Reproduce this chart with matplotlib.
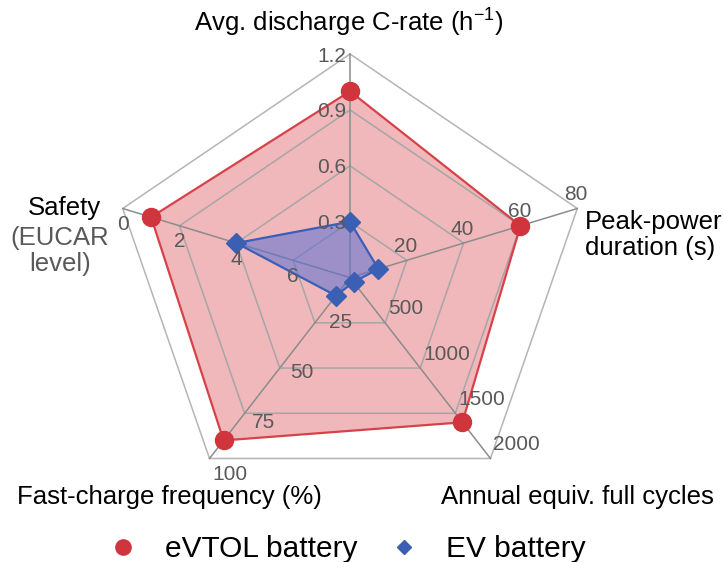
import numpy as np
import matplotlib
matplotlib.use("Agg")
import matplotlib.pyplot as plt
from matplotlib.lines import Line2D

plt.rcParams['font.family'] = ['Liberation Sans', 'DejaVu Sans']

# ---- data -------------------------------------------------------------
axis_names = ["C-rate", "Peak power", "Cycles", "Fast charge", "Safety"]
axis_min = [0.0, 0.0, 0.0, 0.0, 8.0]      # value at the centre
axis_max = [1.2, 80.0, 2000.0, 100.0, 0.0]  # value at the outer ring
axis_ticks = [
    [0.3, 0.6, 0.9, 1.2],
    [20, 40, 60, 80],
    [500, 1000, 1500, 2000],
    [25, 50, 75, 100],
    [6, 4, 2, 0],
]
tick_labels = [
    ["0.3", "0.6", "0.9", "1.2"],
    ["20", "40", "60", "80"],
    ["500", "1000", "1500", "2000"],
    ["25", "50", "75", "100"],
    ["6", "4", "2", "0"],
]
evtol_values = [1.0, 60, 1600, 90, 1]
ev_values = [0.3, 10, 50, 10, 4]
series_names = ["eVTOL battery", "EV battery"]

# ---- layout (pixel space) ---------------------------------------------
W, H = 723, 562
CX, CY = 350.0, 277.6
RX, RY = 239.0, 223.6
angles = np.deg2rad([90, 18, -54, -126, 162])


def to_xy(i, v):
    frac = (v - axis_min[i]) / (axis_max[i] - axis_min[i])
    return CX + frac * RX * np.cos(angles[i]), CY - frac * RY * np.sin(angles[i])


def ring_xy(frac):
    xs = CX + frac * RX * np.cos(angles)
    ys = CY - frac * RY * np.sin(angles)
    return np.append(xs, xs[0]), np.append(ys, ys[0])


fig = plt.figure(figsize=(W / 100, H / 100), dpi=100)
ax = fig.add_axes([0, 0, 1, 1])
ax.set_xlim(0, W)
ax.set_ylim(H, 0)
ax.axis("off")

grid_c = "#a6a6a6"

# eVTOL polygon fill first so the grid shows through it
ex, ey = zip(*[to_xy(i, v) for i, v in enumerate(evtol_values)])
ex, ey = list(ex) + [ex[0]], list(ey) + [ey[0]]
ax.fill(ex, ey, color="#d63c44", alpha=0.36, lw=0, zorder=1)

# pentagon grid rings and spokes
for frac in [0.25, 0.5, 0.75, 1.0]:
    gx, gy = ring_xy(frac)
    ax.plot(gx, gy, color=grid_c if frac < 1 else "#b5b5b5", lw=1.1, zorder=2)
for i in range(5):
    ox, oy = to_xy(i, axis_max[i])
    ax.plot([CX, ox], [CY, oy], color="#8c8c8c", lw=1.1, zorder=2)

# series outlines and markers
ax.plot(ex, ey, color="#d6424a", lw=1.6, zorder=3)
ax.plot(ex[:-1], ey[:-1], "o", color="#d0353d", ms=13, mec="#d0353d", zorder=6)

vx, vy = zip(*[to_xy(i, v) for i, v in enumerate(ev_values)])
vx, vy = list(vx) + [vx[0]], list(vy) + [vy[0]]
ax.fill(vx, vy, color="#5a6ed4", alpha=0.55, lw=0, zorder=4)
ax.plot(vx, vy, color="#3a5fb8", lw=1.6, zorder=5)
ax.plot(vx[:-1], vy[:-1], "D", color="#3a5fb3", ms=10.5, zorder=6)

# tick labels on each spoke
tick_c = "#595959"
tick_fs = 15
offsets = [
    dict(dx=-4, dy=2, ha="right", va="center"),
    dict(dx=-1, dy=-14, ha="center", va="center"),
    dict(dx=3, dy=-14, ha="left", va="center"),
    None,
    dict(dx=0, dy=16, ha="center", va="center"),
]
fc_offsets = [(14, 0), (10, 4), (7, 9), (20, 16)]
for i in range(5):
    for k, (t, lab) in enumerate(zip(axis_ticks[i], tick_labels[i])):
        px, py = to_xy(i, t)
        if i == 3:
            dx, dy = fc_offsets[k]
            ha = "left" if k < 3 else "center"
            ax.text(px + dx, py + dy, lab, ha=ha, va="center",
                    fontsize=tick_fs, color=tick_c, zorder=7)
        else:
            o = offsets[i]
            ax.text(px + o["dx"], py + o["dy"], lab, ha=o["ha"], va=o["va"],
                    fontsize=tick_fs, color=tick_c, zorder=7)

# axis titles
title_fs = 18.5
ax.text(349, 22, "Avg. discharge C-rate (h$^{\\mathregular{-1}}$)", ha="center",
        va="center", fontsize=title_fs, color="black")
ax.text(585, 235, "Peak-power\nduration (s)", ha="left", va="center",
        fontsize=title_fs, color="black", linespacing=1.15)
ax.text(577, 497, "Annual equiv. full cycles", ha="center", va="center",
        fontsize=title_fs, color="black")
ax.text(169, 497, "Fast-charge frequency (%)", ha="center", va="center",
        fontsize=title_fs, color="black")
ax.text(64, 208, "Safety", ha="center", va="center", fontsize=title_fs,
        color="black")
ax.text(60, 251, "(EUCAR\nlevel)", ha="center", va="center",
        fontsize=title_fs, color=tick_c, linespacing=1.1)

# legend
handles = [
    Line2D([], [], marker="o", ls="none", color="#d0353d", ms=11),
    Line2D([], [], marker="D", ls="none", color="#3a5fb3", ms=7.5),
]
ax.legend(handles, series_names, loc="center",
          bbox_to_anchor=(347 / W, 1 - 549 / H), ncol=2, frameon=False,
          fontsize=21.5, handlelength=1.0, handletextpad=0.9,
          columnspacing=1.05, borderaxespad=0, borderpad=0)

fig.savefig("out.png", dpi=100)
